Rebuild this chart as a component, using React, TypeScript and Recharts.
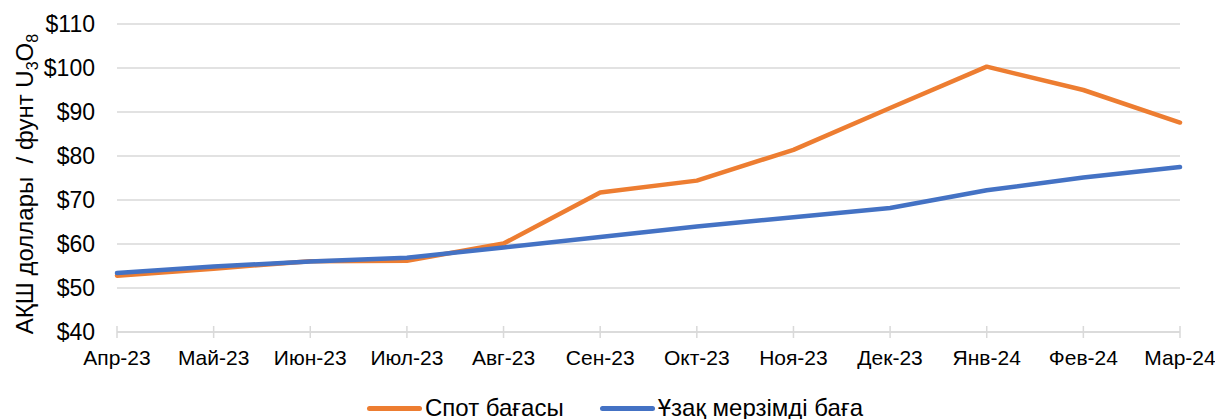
import { CartesianGrid, Legend, Line, LineChart, XAxis, YAxis } from 'recharts';

const months = ['Апр-23', 'Май-23', 'Июн-23', 'Июл-23', 'Авг-23', 'Сен-23', 'Окт-23', 'Ноя-23', 'Дек-23', 'Янв-24', 'Фев-24', 'Мар-24'];
const spotPrice = [52.8, 54.4, 56.1, 56.2, 60.1, 71.7, 74.4, 81.4, 90.9, 100.3, 95.0, 87.6];
const longTermPrice = [53.4, 54.9, 56.0, 56.9, 59.2, 61.6, 64.0, 66.1, 68.2, 72.2, 75.1, 77.5];
const yTicks = [40, 50, 60, 70, 80, 90, 100, 110];

const seriesNames = { spot: 'Спот бағасы', longTerm: 'Ұзақ мерзімді баға' };
const colors = { spot: '#ED7D31', longTerm: '#4472C4' };

const data = months.map((month, i) => ({
  month,
  spot: spotPrice[i],
  longTerm: longTermPrice[i],
}));

const FONT = '"Liberation Sans", Arial, sans-serif';

const XTick = ({ x, y, payload }: any) => (
  <g>
    <line x1={x} x2={x} y1={y - 20} y2={y - 8} stroke="#D9D9D9" strokeWidth={1.5} />
    <text x={x} y={y} dy={19} textAnchor="middle" fontSize={21} fill="#000" fontFamily={FONT}>
      {payload.value}
    </text>
  </g>
);

const YTitle = () => (
  <text
    x={33}
    y={184}
    transform="rotate(-90, 33, 184)"
    textAnchor="middle"
    fontSize={24}
    fill="#000"
    fontFamily={FONT}
    style={{ whiteSpace: 'pre' }}
  >
    {'АҚШ доллары  / фунт U'}
    <tspan dy={5} fontSize={16}>3</tspan>
    <tspan dy={-5}>O</tspan>
    <tspan dy={5} fontSize={16}>8</tspan>
  </text>
);

const LegendContent = () => (
  <div
    style={{
      display: 'flex',
      justifyContent: 'center',
      alignItems: 'center',
      height: 24,
      paddingLeft: 8,
      fontFamily: FONT,
      fontSize: 24,
      lineHeight: '24px',
      color: '#000',
    }}
  >
    {(['spot', 'longTerm'] as const).map((key) => (
      <div key={key} style={{ display: 'flex', alignItems: 'center', marginRight: key === 'spot' ? 36 : 0 }}>
        <span
          style={{
            display: 'inline-block',
            width: 55,
            height: 5,
            borderRadius: 3,
            background: colors[key],
            marginRight: 3,
          }}
        />
        <span>{seriesNames[key]}</span>
      </div>
    ))}
  </div>
);

export default function App() {
  return (
    <div style={{ position: 'absolute', left: 0, top: 0, width: 1215, height: 419, background: '#fff' }}>
      <LineChart width={1215} height={419} data={data} margin={{ top: 24, right: 35, bottom: 0, left: 42 }}>
        <CartesianGrid vertical={false} stroke="#D9D9D9" strokeWidth={1.5} />
        <XAxis
          dataKey="month"
          interval={0}
          height={63}
          tickSize={0}
          tickMargin={14}
          tickLine={false}
          axisLine={{ stroke: '#D9D9D9', strokeWidth: 1.5 }}
          tick={<XTick />}
        />
        <YAxis
          domain={[40, 110]}
          ticks={yTicks}
          width={75}
          tickSize={0}
          tickMargin={22}
          axisLine={false}
          tickLine={false}
          tickFormatter={(v: number) => `$${v}`}
          tick={{ fontSize: 23, fill: '#000', fontFamily: FONT }}
          label={{ content: <YTitle /> }}
        />
        <Legend
          verticalAlign="bottom"
          wrapperStyle={{ bottom: -1, height: 24 }}
          content={<LegendContent />}
        />
        <Line
          dataKey="spot"
          name={seriesNames.spot}
          stroke={colors.spot}
          strokeWidth={4.5}
          strokeLinejoin="round"
          strokeLinecap="round"
          dot={false}
          isAnimationActive={false}
        />
        <Line
          dataKey="longTerm"
          name={seriesNames.longTerm}
          stroke={colors.longTerm}
          strokeWidth={4.5}
          strokeLinejoin="round"
          strokeLinecap="round"
          dot={false}
          isAnimationActive={false}
        />
      </LineChart>
    </div>
  );
}
